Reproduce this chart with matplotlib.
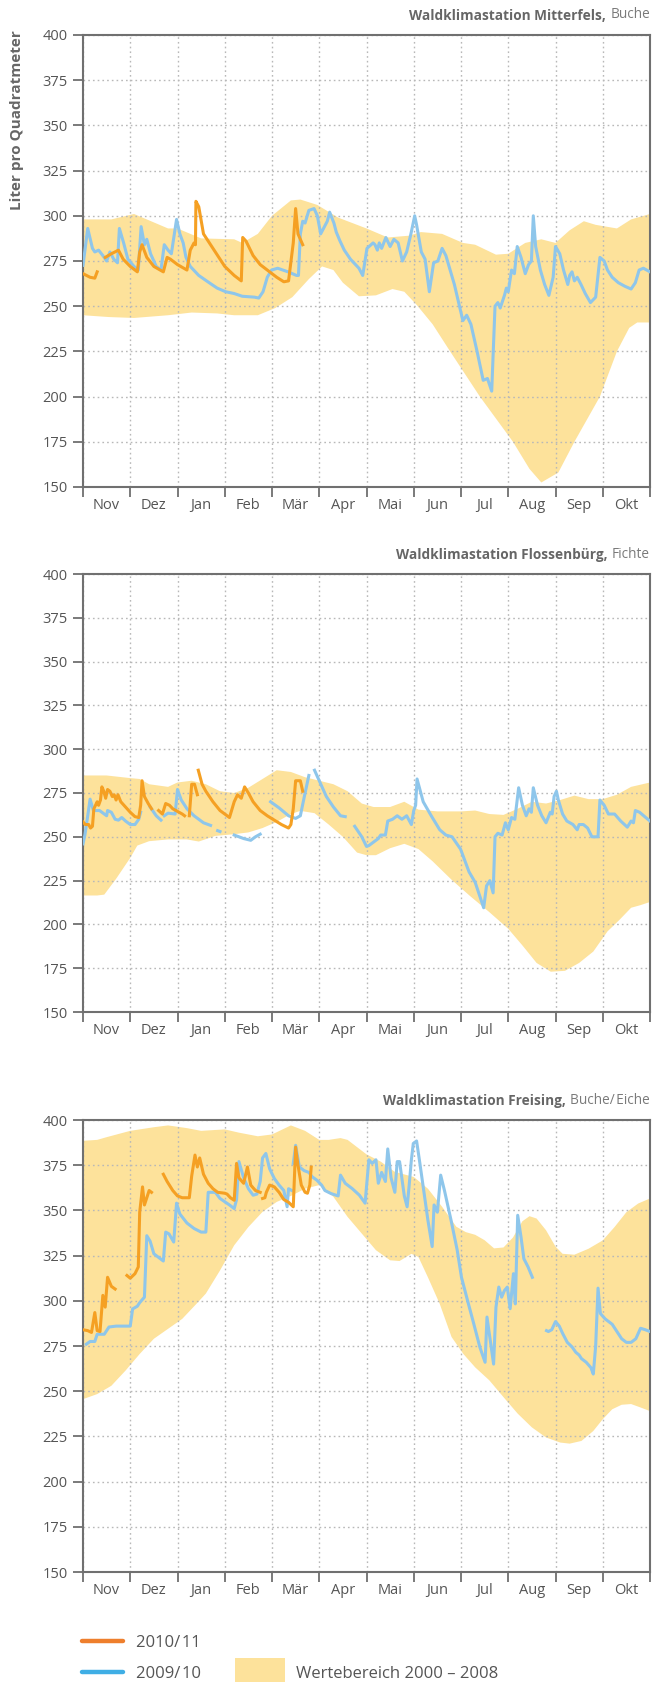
import numpy as np
import matplotlib
matplotlib.use("Agg")
from matplotlib import pyplot as plt
from matplotlib.lines import Line2D
from matplotlib.patches import Rectangle

nan = np.nan

months = ["Nov", "Dez", "Jan", "Feb", "Mär", "Apr", "Mai", "Jun", "Jul", "Aug", "Sep", "Okt"]
yticks = [150, 175, 200, 225, 250, 275, 300, 325, 350, 375, 400]

# --- Mitterfels ---
mit_hi_x = [0, 0.6, 1.08, 1.8, 2.0, 2.5, 3.2, 3.37, 3.7, 4.0, 4.4, 4.6, 4.96, 5.4, 6.0, 6.45, 6.9, 7.15,
            7.6, 8.04, 8.3, 8.74, 9.0, 9.36, 9.7, 10.0, 10.3, 10.6, 10.85, 11.3, 11.6, 12.0]
mit_hi_y = [298, 298, 301, 293, 293, 287.5, 287, 285, 290, 300, 308.5, 309, 306, 299, 293, 288, 289, 291,
            290, 285, 284, 278.5, 279, 285, 287, 285, 292, 297, 295, 293, 298, 301]
mit_lo_x = [0, 0.55, 1.08, 1.8, 2.3, 2.84, 3.2, 3.7, 4.07, 4.43, 4.78, 5.06, 5.3, 5.5, 5.84, 6.2, 6.55,
            6.8, 7.07, 7.4, 7.77, 8.4, 9.1, 9.45, 9.7, 10.06, 10.4, 10.94, 11.3, 11.56, 11.73, 12]
mit_lo_y = [245, 244, 243.5, 245, 246.5, 246, 245, 245, 249, 255, 265, 272, 270, 263, 255.5, 256, 259.5,
            258, 250.5, 240, 225, 200, 175, 160, 152.5, 158, 175, 200, 225, 238, 241, 241]
mit_0910_x = [0, 0.1, 0.2, 0.25, 0.33, 0.42, 0.5, 0.57, 0.65, 0.73, 0.77, 0.86, 0.95, 1.08, 1.17, 1.23,
              1.3, 1.35, 1.43, 1.55, 1.65, 1.72, 1.8, 1.87, 1.98, 2.05, 2.12, 2.18, 2.27, 2.45, 2.67,
              2.84, 3.02, 3.2, 3.37, 3.63, 3.72, 3.81, 3.9, 3.99, 4.12, 4.34, 4.52, 4.56, 4.6, 4.65,
              4.7, 4.78, 4.89, 4.96, 5.03, 5.13, 5.17, 5.22, 5.31, 5.36, 5.44, 5.53, 5.66, 5.84, 5.92,
              6.01, 6.14, 6.18, 6.23, 6.27, 6.32, 6.41, 6.5, 6.58, 6.67, 6.76, 6.85, 6.94, 7.02, 7.06,
              7.16, 7.24, 7.33, 7.42, 7.51, 7.6, 7.68, 7.86, 8.04, 8.12, 8.21, 8.34, 8.47, 8.56, 8.65,
              8.72, 8.78, 8.83, 8.92, 8.96, 9.0, 9.07, 9.13, 9.19, 9.27, 9.36, 9.43, 9.49, 9.53, 9.58,
              9.68, 9.77, 9.86, 9.95, 10.0, 10.09, 10.17, 10.26, 10.3, 10.35, 10.4, 10.46, 10.54, 10.63,
              10.74, 10.85, 10.94, 11.03, 11.1, 11.2, 11.33, 11.47, 11.6, 11.69, 11.77, 11.86, 12.0]
mit_0910_y = [272.6, 293, 282, 280, 281, 278, 275, 280, 276, 274, 293, 285, 276, 272, 270, 294,
              284, 287, 279, 272, 270, 284, 281, 279, 298, 290, 285, 277, 272, 267, 263,
              260, 258, 257, 255.5, 255, 254.5, 258, 266, 270, 271, 269, 267, 267, 290, 297,
              296, 303, 304, 300, 290, 295, 297, 302, 296, 291, 286, 281, 276, 271, 267,
              282, 285, 284, 281, 285, 282, 288, 283, 287, 285, 275, 280, 290, 300, 295,
              280, 276, 258, 274, 275, 282, 278, 262, 242, 245, 240, 225, 209, 210, 203,
              250, 252, 249, 256, 260, 258, 270, 268, 283, 277, 268, 273, 275, 300, 283,
              270, 262, 256, 266, 283, 279, 270, 262, 267, 269, 264, 266, 262, 257,
              252, 255, 277, 275, 270, 266, 263, 261, 259.5, 263, 270, 271, 269]
mit_1011_x = [0, 0.15, 0.25, 0.3, nan,
              0.47, 0.6, 0.75, 0.85, 1.0, 1.15, 1.2, 1.25, 1.35, 1.5, 1.7, 1.78, 1.85, 2.0, 2.2, 2.27,
              2.35, 2.38, 2.39, 2.45, 2.55, 2.6, 2.8, 3.0, 3.2, 3.35, 3.38, 3.45, 3.6, 3.75, 3.9, 4.1,
              4.25, 4.35, 4.45, 4.5, 4.55, 4.65]
mit_1011_y = [268, 266, 265.5, 269, nan,
              277, 279, 281, 276, 272, 269, 280, 284, 277, 272, 269, 277, 276, 273, 270, 281,
              285, 284, 308, 305, 290, 288, 280, 272, 267, 264, 288, 286, 278, 273, 270, 266,
              263.5, 264, 285, 304, 290, 284]

# --- Flossenbürg ---
flo_hi_x = [0, 0.5, 1.0, 1.2, 1.4, 1.8, 2.0, 2.3, 2.6, 2.9, 3.2, 3.5, 3.8, 4.1, 4.4, 4.7, 5.0, 5.3, 5.6,
            5.9, 6.15, 6.5, 6.8, 7.1, 7.5, 8.0, 8.3, 8.6, 8.9, 9.2, 9.5, 9.8, 10.1, 10.4, 10.7, 11.0,
            11.3, 11.6, 12]
flo_hi_y = [285, 285, 283.5, 283, 280, 278.5, 281, 282, 280, 276, 275, 278, 283, 288, 287, 284, 282, 280,
            276, 269, 267, 267, 270, 265.5, 264.5, 264.5, 265, 263, 262.5, 266, 270, 269, 271, 273.5,
            271.5, 271.5, 274, 278.5, 281]
flo_lo_x = [0, 0.3, 0.45, 0.7, 1.0, 1.15, 1.4, 1.8, 2.2, 2.45, 2.8, 3.2, 3.5, 3.8, 4.1, 4.4, 4.6, 4.9,
            5.2, 5.5, 5.8, 6.0, 6.2, 6.5, 6.8, 7.1, 7.4, 7.8, 8.2, 8.6, 9.0, 9.3, 9.6, 9.9, 10.2, 10.5,
            10.8, 11.1, 11.35, 11.6, 11.8, 12]
flo_lo_y = [216.5, 216.5, 217, 226, 238, 245, 247.5, 248.5, 248.5, 247.3, 250.5, 251.5, 252.5, 255,
            258.5, 263, 264.8, 263.5, 257, 250, 241, 239.5, 239.5, 243.5, 246, 243, 236, 225.5, 216,
            207, 197.5, 188, 178, 173, 173.5, 178, 184.5, 196, 202.5, 209.5, 211, 212.8]
flo_0910_x = [0, 0.04, 0.1, 0.15, 0.22, 0.35, 0.5, 0.52, 0.6, 0.68, 0.75, 0.82, 0.9, 1.0, 1.1, 1.18, 1.22, nan,
              1.42, 1.55, 1.65, nan,
              1.72, 1.8, 1.95, 2.0, 2.08, 2.2, 2.35, 2.55, 2.7, nan,
              2.85, 2.9, nan,
              3.2, 3.4, 3.55, 3.65, 3.75, nan,
              3.97, 4.15, 4.35, 4.5, 4.6, 4.7, 4.78, nan,
              4.9, 5.0, 5.15, 5.3, 5.45, 5.55, nan,
              5.75, 5.9, 6.0, 6.05, 6.15, 6.25, 6.3, 6.4, 6.45, 6.55, 6.65, 6.75, 6.85, 6.95, 7.0, 7.04,
              7.07, 7.2, 7.37, 7.55, 7.68, 7.81, 7.99, 8.17, 8.3, 8.48, 8.54, 8.61, 8.68, 8.72, 8.78,
              8.87, 8.94, 9.0, 9.07, 9.14, 9.22, 9.3, 9.38, 9.44, 9.49, 9.53, 9.62, 9.71, 9.8, 9.89,
              9.93, 9.97, 10.02, 10.06, 10.15, 10.24, 10.37, 10.46, 10.5, 10.59, 10.68, 10.77, 10.9,
              10.94, 11.03, 11.12, 11.25, 11.38, 11.52, 11.6, 11.65, 11.69, 11.78, 11.91, 12]
flo_0910_y = [246, 251, 262, 271.5, 265, 265, 262, 265, 264, 260, 259.5, 261, 259, 257, 257, 260, 264, nan,
              267, 262, 259.5, nan,
              262, 263.5, 263, 277, 271, 266, 262, 258, 256.5, nan,
              253.5, 253, nan,
              251, 249, 248, 250, 251.5, nan,
              270, 266.5, 262, 260.5, 262, 275, 285, nan,
              288, 282, 273, 267, 262, 261.5, nan,
              256, 250, 244.5, 245, 247, 249, 251, 251, 259, 260, 262, 260, 262, 257, 265, 268,
              283, 270, 262, 254, 251, 250, 243, 230, 224, 209.5, 222, 225, 218, 250, 252,
              251, 258, 254, 261, 260, 278, 268, 262, 266, 264, 278, 268, 262, 258, 264,
              263, 273, 276, 271, 263, 259, 257, 254, 257, 257, 255, 250, 250,
              271, 268, 263, 263, 259, 255.5, 259, 258, 265, 264, 261, 259]
flo_1011_x = [0, 0.05, 0.12, 0.16, 0.2, 0.23, 0.3, 0.33, 0.37, 0.4, 0.44, 0.48, 0.52, 0.57, 0.62, 0.66,
              0.7, 0.74, 0.8, 0.9, 1.0, 1.1, 1.18, 1.22, 1.25, 1.3, 1.38, 1.45, nan,
              1.6, 1.68, 1.75, 1.83, 1.9, 2.0, 2.1, 2.15, nan,
              2.25, 2.3, 2.36, 2.42, nan,
              2.44, 2.52, 2.6, 2.75, 2.9, 3.05, 3.1, 3.2, 3.27, 3.35, 3.42, 3.5, 3.6, 3.75, 3.9, 4.05,
              4.2, 4.35, 4.4, 4.45, 4.5, 4.6, 4.65]
flo_1011_y = [258.5, 257, 257, 255, 256, 266, 270, 268, 271, 278.5, 276, 272, 277, 276, 273, 274,
              271, 274, 270, 267, 264, 261.5, 261, 268, 282, 273, 269, 266, nan,
              265, 263, 269, 268, 266, 264.5, 263, 262, nan,
              262, 280, 280, 274, nan,
              288, 280, 276, 270, 265, 262, 261, 270, 274, 272, 278.5, 275, 270, 265, 262, 259.5,
              257, 255, 257, 266, 282, 282, 276]

# --- Freising ---
fre_hi_x = [0, 0.3, 0.5, 1.0, 1.5, 1.8, 2.2, 2.5, 3.0, 3.3, 3.7, 4.0, 4.4, 4.7, 5.0, 5.2, 5.45, 5.6,
            6.0, 6.3, 6.6, 7.0, 7.3, 7.6, 7.9, 8.1, 8.3, 8.5, 8.7, 8.9, 9.1, 9.3, 9.45, 9.6, 9.8, 10.0,
            10.15, 10.4, 10.7, 11.0, 11.25, 11.5, 11.75, 12]
fre_hi_y = [388.5, 389, 390.5, 394, 396, 397, 395.5, 394, 394.8, 393, 391, 392, 397, 394, 389, 389, 390,
            389, 381, 377, 371.3, 368.5, 362, 352, 341, 338, 336.5, 333.5, 329, 329.5, 335, 344, 346.8,
            345.5, 339, 330, 326, 325.5, 328.8, 333.4, 340.8, 349, 353.8, 356.6]
fre_lo_x = [0, 0.3, 0.6, 0.9, 1.2, 1.5, 1.8, 2.1, 2.4, 2.6, 2.9, 3.2, 3.5, 3.8, 4.1, 4.4, 4.7, 5.0, 5.3,
            5.6, 5.9, 6.2, 6.5, 6.7, 6.95, 7.1, 7.3, 7.55, 7.8, 8.05, 8.3, 8.6, 8.9, 9.2, 9.5, 9.8,
            10.1, 10.3, 10.55, 10.8, 11.0, 11.2, 11.4, 11.6, 11.8, 12]
fre_lo_y = [245.6, 248.4, 253, 261.4, 270.6, 279, 284.5, 290, 298.3, 304, 316.8, 330.7, 340.8, 349.2,
            354.7, 358, 362, 364, 357.5, 346.4, 337.2, 328, 322.4, 322, 326, 324.2, 313, 298.3, 280,
            270.6, 263.2, 256, 246.7, 237.6, 230, 224.4, 221.6, 221, 222.5, 228, 234.5, 240, 242.5,
            242.9, 241, 239]
fre_0910_x = [0.07, 0.15, 0.25, 0.3, 0.45, 0.55, 0.7, 0.9, 1.0, 1.05, 1.15, 1.2, 1.3, 1.35, 1.42, 1.5,
              1.6, 1.7, 1.75, 1.82, 1.92, 1.98, 2.05, 2.2, 2.35, 2.5, 2.6, 2.65, 2.8, 2.9, 3.1, 3.2,
              3.25, 3.3, 3.4, 3.5, 3.6, 3.68, 3.75, 3.8, 3.87, 3.95, 4.05, 4.15, 4.25, 4.32, 4.35,
              4.42, nan,
              4.45, 4.5, 4.58, 4.68, 4.78, 4.85, 4.95, 5.05, 5.12, 5.25, 5.4, 5.45, 5.55, 5.7, 5.85,
              5.97, 6.05, 6.12, 6.2, 6.25, 6.32, 6.4, 6.45, 6.52, 6.6, 6.65, 6.7, 6.8, 6.86, 6.9, 6.95,
              6.99, 7.06, 7.13, 7.21, 7.3, 7.39, 7.43, 7.5, 7.57, 7.65, 7.79, 7.92, 8.01, 8.14, 8.27,
              8.4, 8.51, 8.55, 8.62, 8.69, 8.74, 8.8, 8.86, 8.92, 8.98, 9.04, 9.11, 9.15, 9.2, 9.27,
              9.33, 9.42, 9.51, nan,
              9.81, 9.85, 9.92, 10.0, 10.08, 10.15, 10.25, 10.35, 10.43, 10.5, 10.55, 10.65, 10.75,
              10.8, 10.85, 10.9, 10.95, 11.05, 11.2, 11.3, 11.4, 11.5, 11.6, 11.7, 11.8, 11.9, 12]
fre_0910_y = [276, 277.5, 277.5, 281.5, 281.5, 285.5, 286, 286, 286, 295.5, 297, 299, 302, 336, 333, 326,
              324, 322, 338, 337, 332.5, 354, 348, 343, 340, 338, 338, 360, 360, 356.6, 353, 351,
              356, 377, 368, 362, 358.4, 359, 366, 379, 381.5, 373, 367.6, 364, 361, 352, 362,
              361, nan,
              376, 386, 374, 372, 371, 368.6, 366.7, 364, 361, 359.3, 358, 369.5, 365, 362, 358.4,
              354, 378, 376, 378, 365, 371, 366, 384, 368, 360, 377, 377, 358, 352, 363, 378,
              387, 388.4, 376, 361, 344.5, 330, 353, 349, 369.5, 361, 344.5, 328, 313, 300, 287.3,
              274.3, 266, 291, 278, 265, 296.5, 307.6, 302, 305.7, 307.6, 295.6, 315, 298.3, 347.3,
              335.3, 323.3, 318.7, 313, nan,
              283.5, 283, 284, 288.5, 286, 282, 277, 274.5, 271.5, 270, 268, 266, 263,
              259.5, 275, 307, 293, 290, 287, 283, 279, 277, 277, 279, 284.8, 284, 283]
fre_1011_x = [0, 0.1, 0.18, 0.25, 0.3, 0.36, 0.42, 0.47, 0.52, 0.6, 0.68, nan,
              0.93, 1.0, 1.1, 1.17, 1.2, 1.26, 1.3, 1.35, 1.4, 1.45, nan,
              1.7, 1.78, 1.9, 2.0, 2.1, 2.25, 2.3, 2.37, 2.42, 2.47, 2.55, 2.65, 2.75, 2.85, 3.0, 3.05,
              3.12, 3.2, 3.25, 3.3, 3.4, 3.48, 3.55, 3.65, 3.75, nan,
              3.8, 3.85, 3.88, 3.95, 4.05, 4.15, 4.25, 4.35, 4.45, 4.5, 4.55, 4.62, 4.7, 4.75, 4.8, 4.83]
fre_1011_y = [284, 283.5, 282.5, 293.5, 283.5, 283, 303, 296.5, 313, 308, 306.5, nan,
              314, 312.5, 315, 318.7, 349, 363, 353, 357, 361, 360, nan,
              370, 366, 361, 358, 357, 357, 369, 380.6, 374, 379, 370, 365, 362, 360, 359.5, 359,
              357, 355.6, 376, 368, 365, 374, 364, 361, 360, nan,
              356.6, 357, 360, 364, 363, 360, 356, 354.5, 352, 385, 375, 364, 360, 359.5, 364, 374]

stations = [
    ("Waldklimastation Mitterfels,", "Buche",
     mit_hi_x, mit_hi_y, mit_lo_x, mit_lo_y, mit_0910_x, mit_0910_y, mit_1011_x, mit_1011_y),
    ("Waldklimastation Flossenbürg,", "Fichte",
     flo_hi_x, flo_hi_y, flo_lo_x, flo_lo_y, flo_0910_x, flo_0910_y, flo_1011_x, flo_1011_y),
    ("Waldklimastation Freising,", "Buche/\u200aEiche",
     fre_hi_x, fre_hi_y, fre_lo_x, fre_lo_y, fre_0910_x, fre_0910_y, fre_1011_x, fre_1011_y),
]

c_band = "#fde29b"
c_blue = "#8ec6eb"
c_orange = "#f5a023"
c_axis = "#707070"
c_text = "#555555"

plt.rcParams["font.family"] = ["Open Sans", "DejaVu Sans"]

W, H = 653, 1682
fig = plt.figure(figsize=(W / 100, H / 100), dpi=100)

# axes boxes in pixels: left, top, right, bottom
boxes = [(83, 35, 650, 487), (83, 574, 650, 1012), (83, 1120, 650, 1572)]

for (bold, light, hx, hy, lx, ly, bx, by, ox, oy), (l, t, r, b) in zip(stations, boxes):
    ax = fig.add_axes([l / W, 1 - b / H, (r - l) / W, (b - t) / H])
    ax.fill(np.concatenate([hx, lx[::-1]]), np.concatenate([hy, ly[::-1]]),
            color=c_band, lw=0, zorder=1)
    ax.plot(bx, by, color=c_blue, lw=2.2, zorder=3, solid_joinstyle="round")
    ax.plot(ox, oy, color=c_orange, lw=2.2, zorder=4, solid_joinstyle="round")

    ax.set_xlim(0, 12)
    ax.set_ylim(150, 400)
    ax.set_yticks(yticks)
    ax.set_xticks(range(13))
    ax.set_xticklabels([])
    ax.set_xticks(np.arange(12) + 0.5, minor=True)
    ax.set_xticklabels(months, minor=True)
    ax.tick_params(axis="x", which="major", length=7, width=1.3, color=c_axis, direction="out")
    ax.tick_params(axis="x", which="minor", length=0, pad=8, labelsize=10.5, labelcolor=c_text)
    ax.tick_params(axis="y", length=7, width=1.3, color=c_axis, direction="out", pad=4,
                   labelsize=10.5, labelcolor=c_text)
    for s in ax.spines.values():
        s.set_color(c_axis)
        s.set_linewidth(1.5)
    ax.set_axisbelow("line")
    ax.grid(True, which="major", color="#b8b8b8", lw=1.0, ls=(0, (1.2, 2.2)))

    reg = ax.annotate(light, xy=(1, 1), xycoords="axes fraction", xytext=(0, 9),
                      textcoords="offset points", ha="right", va="bottom",
                      fontsize=9.8, color="#7a7a7a")
    ax.annotate(bold, xy=(0, 0), xycoords=reg, xytext=(-3, 0), textcoords="offset points",
                ha="right", va="bottom", fontsize=9.8, fontweight="bold", color="#666666")

fig.text(17 / W, 1 - 30 / H, "Liter pro Quadratmeter", rotation=90, ha="center", va="top",
         fontsize=11, fontweight="bold", color="#666666")

# legend
fig.add_artist(Line2D([82 / W, 123 / W], [1 - 1641 / H, 1 - 1641 / H], color="#ee7f2d", lw=3.2,
                      solid_capstyle="round"))
fig.add_artist(Line2D([82 / W, 123 / W], [1 - 1672 / H, 1 - 1672 / H], color="#3faee5", lw=3.2,
                      solid_capstyle="round"))
fig.text(136 / W, 1 - 1647 / H, "2010/\u200a11", fontsize=12, color=c_text, va="baseline")
fig.text(136 / W, 1 - 1678 / H, "2009/\u200a10", fontsize=12, color=c_text, va="baseline")
fig.add_artist(Rectangle((235 / W, 0), 50 / W, 24 / H, color=c_band, lw=0))
fig.text(296 / W, 1 - 1678 / H, "Wertebereich 2000 – 2008", fontsize=12, color=c_text, va="baseline")

fig.savefig("out.png", dpi=100)
